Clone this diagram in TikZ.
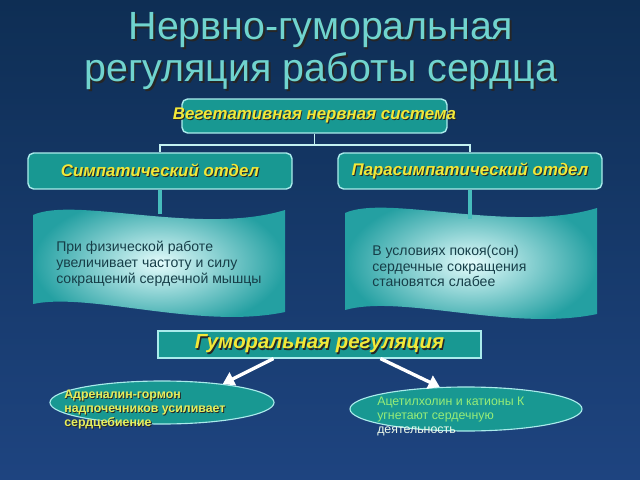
\documentclass[tikz,border=0pt]{standalone}
\usepackage{fontspec}
\setmainfont{Liberation Sans}
\usetikzlibrary{shapes.geometric,arrows.meta}

\definecolor{bgtop}{RGB}{14,46,84}
\definecolor{bgbot}{RGB}{30,68,128}
\definecolor{titlecol}{RGB}{112,212,206}
\definecolor{boxfill}{RGB}{24,152,146}
\definecolor{boxline}{RGB}{170,235,235}
\definecolor{labelcol}{RGB}{242,232,56}
\definecolor{stubcol}{RGB}{70,188,188}
\definecolor{flagedge}{RGB}{36,160,162}
\definecolor{flagmid}{RGB}{228,252,252}
\definecolor{flagtext}{RGB}{22,62,72}
\definecolor{adrcol}{RGB}{230,238,92}
\definecolor{acecol}{RGB}{150,236,120}

% text with a dark drop shadow
\newcommand{\withshadow}[3][0.7pt]{%
  \makebox[0pt][l]{\hspace{#1}\raisebox{-#1}{\color{black!85}#3}}{\color{#2}#3}}

\begin{document}
\begin{tikzpicture}[x=0.025cm,y=-0.025cm,
    title/.style={font={\fontsize{28}{32}\selectfont}},
    partbox/.style={draw=boxline,line width=1pt,fill=boxfill,rounded corners=4pt,
        inner sep=0pt,font={\fontsize{12}{14}\selectfont\bfseries\itshape}},
    tree/.style={draw=boxline!70!white,line width=1.3pt},
    stub/.style={draw=stubcol,line width=2.4pt},
    flagtxt/.style={anchor=north west,inner sep=0pt,align=left,text=flagtext,
        font={\fontsize{10}{11.2}\selectfont}},
    oval/.style={ellipse,draw=boxline,line width=0.8pt,fill=boxfill,inner sep=0pt},
    ovaltxt/.style={anchor=north west,inner sep=0pt,align=left,
        font={\fontsize{8.8}{10}\selectfont}},
    humarrow/.style={draw=white,line width=2.4pt,-{Triangle[length=8pt,width=10pt]}},
    ]
    % Background
    \shade[top color=bgtop,bottom color=bgbot] (0,0) rectangle (640,480);
    \useasboundingbox (0,0) rectangle (640,480);

    % Title
    \node[title] (title1) at (321,31) {\withshadow[1.1pt]{titlecol}{Нервно-гуморальная}};
    \node[title] (title2) at (321,72) {\withshadow[1.1pt]{titlecol}{регуляция работы сердца}};

    % Nervous system boxes
    \node[partbox,minimum width=6.625cm,minimum height=0.85cm] (veg) at (314.5,116)
        {\makebox[0pt]{\withshadow{labelcol}{Вегетативная нервная система}}};
    \node[partbox,minimum width=6.6cm,minimum height=0.9cm] (symp) at (160,171)
        {\withshadow{labelcol}{Симпатический отдел}};
    \node[partbox,minimum width=6.6cm,minimum height=0.9cm] (para) at (470,171)
        {\withshadow{labelcol}{Парасимпатический отдел}};

    % Tree lines
    \draw[tree] (veg.south) -- ++(0,11) coordinate (fork);
    \draw[tree] (symp.north) |- (fork) -| (para.north);

    % Flags
    \shade[inner color=flagmid,outer color=flagedge,shading=radial]
        (33,215) .. controls (75,196) and (200,236) .. (285,210)
        -- (285,312) .. controls (200,330) and (90,292) .. (33,304) -- cycle;
    \shade[inner color=flagmid,outer color=flagedge,shading=radial]
        (345,213) .. controls (387,194) and (512,234) .. (597,208)
        -- (597,314) .. controls (512,332) and (402,294) .. (345,310) -- cycle;
    \coordinate (lflag) at (160,214);
    \coordinate (rflag) at (470,219);
    \draw[stub] (symp.south) -- (lflag);
    \draw[stub] (para.south) -- (rflag);

    \node[flagtxt] (lflagtext) at (56,241)
        {При физической работе\\увеличивает частоту и силу\\сокращений сердечной мышцы};
    \node[flagtxt] (rflagtext) at (372,245)
        {В условиях покоя(сон)\\сердечные сокращения\\становятся слабее};

    % Humoral regulation
    \node[draw=boxline,line width=0.8pt,fill=boxfill,inner sep=0pt,
        minimum width=8.075cm,minimum height=0.675cm,
        font={\fontsize{14.5}{16}\selectfont\bfseries\itshape}] (hum) at (319.5,344.5)
        {\withshadow[0.9pt]{labelcol}{Гуморальная регуляция}};

    \node[oval,minimum width=5.6cm,minimum height=1.075cm] (adr) at (162,402.5) {};
    \node[oval,minimum width=5.8cm,minimum height=1.1cm] (ace) at (466,409) {};

    \draw[humarrow] (hum.197) -- (adr.17);
    \draw[humarrow] (hum.-13) -- (ace.140);

    \node[ovaltxt,font={\fontsize{8.8}{10}\selectfont\bfseries}] (adrtext) at (64,390)
        {\withshadow[0.6pt]{adrcol}{Адреналин-гормон}\\
         \withshadow[0.6pt]{adrcol}{надпочечников усиливает}\\
         \withshadow[0.6pt]{adrcol}{сердцебиение}};
    \node[ovaltxt] (acetext) at (377,397)
        {\color{acecol}Ацетилхолин и катионы К\\
         \color{acecol}угнетают сердечную\\
         \color{white!85!acecol}деятельность};
\end{tikzpicture}
\end{document}
